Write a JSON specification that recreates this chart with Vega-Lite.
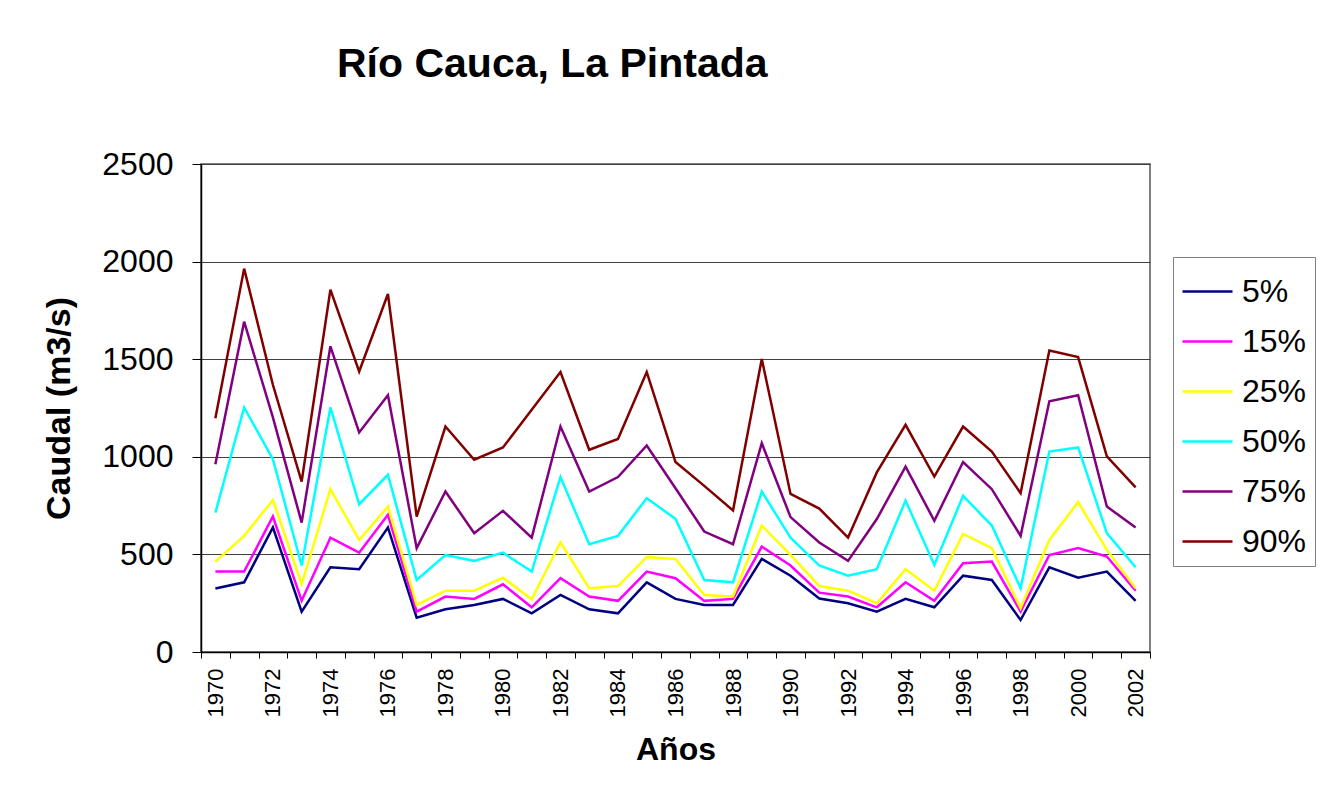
{
  "$schema": "https://vega.github.io/schema/vega-lite/v6.json",
  "width": 949,
  "height": 488,
  "autosize": {"type": "none"},
  "padding": {"left": 201, "top": 164, "right": 168, "bottom": 151},
  "background": "white",
  "title": {
    "text": "Río Cauca, La Pintada",
    "anchor": "start",
    "frame": "group",
    "dx": 136,
    "offset": 62,
    "font": "Liberation Sans",
    "fontSize": 41,
    "fontWeight": "bold",
    "color": "black"
  },
  "data": {
    "values": [
      {"year": 1970, "5%": 325, "15%": 412, "25%": 463, "50%": 714, "75%": 962, "90%": 1198},
      {"year": 1971, "5%": 357, "15%": 412, "25%": 595, "50%": 1253, "75%": 1692, "90%": 1964},
      {"year": 1972, "5%": 638, "15%": 694, "25%": 779, "50%": 988, "75%": 1202, "90%": 1369},
      {"year": 1973, "5%": 207, "15%": 263, "25%": 347, "50%": 443, "75%": 663, "90%": 873},
      {"year": 1974, "5%": 434, "15%": 586, "25%": 834, "50%": 1253, "75%": 1566, "90%": 1856},
      {"year": 1975, "5%": 424, "15%": 509, "25%": 574, "50%": 757, "75%": 1125, "90%": 1437},
      {"year": 1976, "5%": 638, "15%": 703, "25%": 745, "50%": 908, "75%": 1315, "90%": 1834},
      {"year": 1977, "5%": 176, "15%": 207, "25%": 241, "50%": 369, "75%": 532, "90%": 694},
      {"year": 1978, "5%": 219, "15%": 284, "25%": 314, "50%": 497, "75%": 822, "90%": 1155},
      {"year": 1979, "5%": 241, "15%": 272, "25%": 314, "50%": 467, "75%": 609, "90%": 985},
      {"year": 1980, "5%": 272, "15%": 347, "25%": 381, "50%": 509, "75%": 723, "90%": 1048},
      {"year": 1981, "5%": 198, "15%": 229, "25%": 270, "50%": 412, "75%": 586, "90%": 1241},
      {"year": 1982, "5%": 292, "15%": 378, "25%": 562, "50%": 896, "75%": 1155, "90%": 1434},
      {"year": 1983, "5%": 219, "15%": 284, "25%": 327, "50%": 552, "75%": 822, "90%": 1036},
      {"year": 1984, "5%": 198, "15%": 262, "25%": 338, "50%": 595, "75%": 896, "90%": 1091},
      {"year": 1985, "5%": 357, "15%": 412, "25%": 486, "50%": 788, "75%": 1058, "90%": 1434},
      {"year": 1986, "5%": 272, "15%": 378, "25%": 477, "50%": 682, "75%": 839, "90%": 973},
      {"year": 1987, "5%": 241, "15%": 262, "25%": 292, "50%": 369, "75%": 617, "90%": 851},
      {"year": 1988, "5%": 241, "15%": 272, "25%": 284, "50%": 357, "75%": 552, "90%": 725},
      {"year": 1989, "5%": 477, "15%": 540, "25%": 648, "50%": 822, "75%": 1070, "90%": 1501},
      {"year": 1990, "5%": 391, "15%": 443, "25%": 497, "50%": 586, "75%": 691, "90%": 810},
      {"year": 1991, "5%": 274, "15%": 304, "25%": 338, "50%": 443, "75%": 561, "90%": 735},
      {"year": 1992, "5%": 250, "15%": 284, "25%": 314, "50%": 391, "75%": 467, "90%": 586},
      {"year": 1993, "5%": 207, "15%": 229, "25%": 250, "50%": 424, "75%": 681, "90%": 920},
      {"year": 1994, "5%": 272, "15%": 357, "25%": 424, "50%": 776, "75%": 950, "90%": 1164},
      {"year": 1995, "5%": 229, "15%": 262, "25%": 314, "50%": 446, "75%": 672, "90%": 899},
      {"year": 1996, "5%": 391, "15%": 455, "25%": 605, "50%": 800, "75%": 973, "90%": 1155},
      {"year": 1997, "5%": 369, "15%": 463, "25%": 532, "50%": 648, "75%": 834, "90%": 1027},
      {"year": 1998, "5%": 164, "15%": 207, "25%": 224, "50%": 327, "75%": 595, "90%": 814},
      {"year": 1999, "5%": 434, "15%": 497, "25%": 574, "50%": 1027, "75%": 1284, "90%": 1544},
      {"year": 2000, "5%": 381, "15%": 532, "25%": 768, "50%": 1048, "75%": 1315, "90%": 1511},
      {"year": 2001, "5%": 412, "15%": 489, "25%": 523, "50%": 609, "75%": 745, "90%": 1002},
      {"year": 2002, "5%": 262, "15%": 314, "25%": 327, "50%": 434, "75%": 638, "90%": 843}
    ]
  },
  "transform": [
    {"fold": ["5%", "15%", "25%", "50%", "75%", "90%"], "as": ["serie", "caudal"]}
  ],
  "mark": {"type": "line", "strokeWidth": 2.5},
  "encoding": {
    "x": {
      "field": "year",
      "type": "ordinal",
      "title": "Años",
      "scale": {"type": "band", "paddingInner": 0, "paddingOuter": 0},
      "axis": {
        "labelAngle": 270,
        "labelFontSize": 22,
        "labelFont": "Liberation Sans",
        "labelColor": "black",
        "labelPadding": 10,
        "labelOverlap": false,
        "labelExpr": "datum.value % 2 === 0 ? datum.label : ''",
        "tickBand": "extent",
        "tickSize": 6,
        "tickColor": "black",
        "domainColor": "black",
        "domainWidth": 1.5,
        "grid": false,
        "titleFont": "Liberation Sans",
        "titleFontSize": 32,
        "titleFontWeight": "bold",
        "titleColor": "black",
        "titlePadding": 18
      }
    },
    "y": {
      "field": "caudal",
      "type": "quantitative",
      "title": "Caudal (m3/s)",
      "scale": {"domain": [0, 2500], "nice": false, "zero": true},
      "axis": {
        "values": [0, 500, 1000, 1500, 2000, 2500],
        "format": "d",
        "labelFontSize": 32,
        "labelFont": "Liberation Sans",
        "labelColor": "black",
        "labelPadding": 19,
        "tickSize": 9,
        "tickColor": "black",
        "domainColor": "black",
        "domainWidth": 1.5,
        "grid": true,
        "gridColor": "#404040",
        "gridWidth": 1,
        "titleFont": "Liberation Sans",
        "titleFontSize": 34,
        "titleFontWeight": "bold",
        "titleColor": "black",
        "titlePadding": 25
      }
    },
    "color": {
      "field": "serie",
      "type": "nominal",
      "scale": {
        "domain": ["5%", "15%", "25%", "50%", "75%", "90%"],
        "range": ["#000080", "#FF00FF", "#FFFF00", "#00FFFF", "#800080", "#800000"]
      },
      "legend": {
        "title": null,
        "orient": "none",
        "legendX": 972,
        "legendY": 93,
        "symbolType": "stroke",
        "symbolSize": 2500,
        "symbolStrokeWidth": 2.5,
        "labelFont": "Liberation Sans",
        "labelFontSize": 32,
        "labelColor": "black",
        "labelOffset": 8,
        "strokeColor": "#808080",
        "padding": 8,
        "rowPadding": 7,
        "fillColor": "white"
      }
    }
  },
  "config": {
    "view": {"stroke": "#555555", "strokeWidth": 1.5}
  }
}
